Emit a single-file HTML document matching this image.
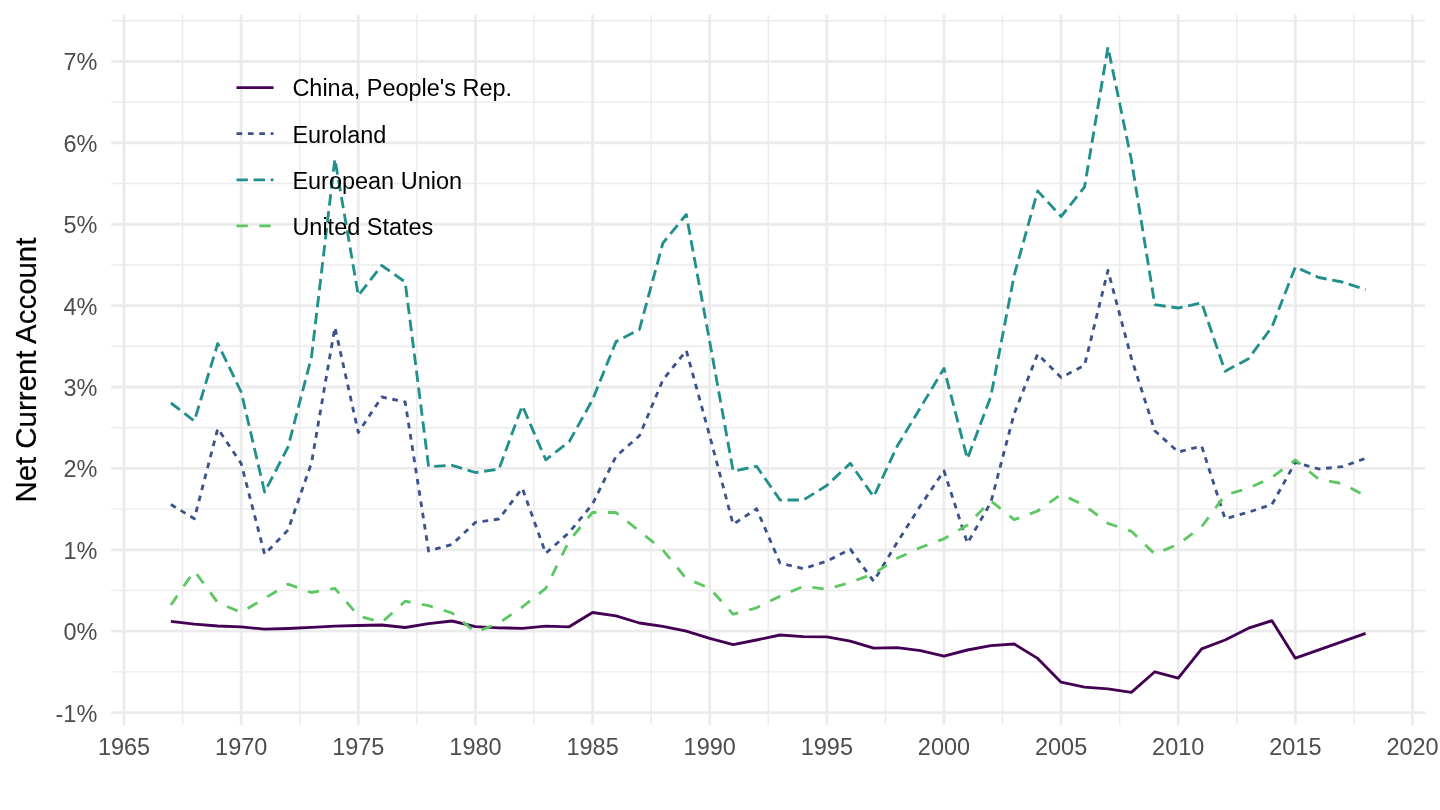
<!DOCTYPE html>
<html lang="en"><head><meta charset="utf-8"><title>Net Current Account</title>
<style>html,body{margin:0;padding:0;background:#fff;}svg{display:block;}text{font-family:"Liberation Sans",Arial,Helvetica,sans-serif;}</style></head><body>
<svg width="1440" height="810" viewBox="0 0 1440 810">
<rect width="1440" height="810" fill="#ffffff"/>
<g stroke="#EBEBEB" stroke-width="1.42" fill="none">
<line x1="111.18" x2="1425.38" y1="671.90" y2="671.90"/>
<line x1="111.18" x2="1425.38" y1="590.51" y2="590.51"/>
<line x1="111.18" x2="1425.38" y1="509.11" y2="509.11"/>
<line x1="111.18" x2="1425.38" y1="427.72" y2="427.72"/>
<line x1="111.18" x2="1425.38" y1="346.32" y2="346.32"/>
<line x1="111.18" x2="1425.38" y1="264.93" y2="264.93"/>
<line x1="111.18" x2="1425.38" y1="183.53" y2="183.53"/>
<line x1="111.18" x2="1425.38" y1="102.14" y2="102.14"/>
<line x1="111.18" x2="1425.38" y1="20.74" y2="20.74"/>
<line y1="14.67" y2="724.7" x1="182.62" x2="182.62"/>
<line y1="14.67" y2="724.7" x1="299.75" x2="299.75"/>
<line y1="14.67" y2="724.7" x1="416.88" x2="416.88"/>
<line y1="14.67" y2="724.7" x1="534.01" x2="534.01"/>
<line y1="14.67" y2="724.7" x1="651.14" x2="651.14"/>
<line y1="14.67" y2="724.7" x1="768.27" x2="768.27"/>
<line y1="14.67" y2="724.7" x1="885.40" x2="885.40"/>
<line y1="14.67" y2="724.7" x1="1002.53" x2="1002.53"/>
<line y1="14.67" y2="724.7" x1="1119.66" x2="1119.66"/>
<line y1="14.67" y2="724.7" x1="1236.79" x2="1236.79"/>
<line y1="14.67" y2="724.7" x1="1353.92" x2="1353.92"/>
</g>
<g stroke="#EBEBEB" stroke-width="2.845" fill="none">
<line x1="111.18" x2="1425.38" y1="712.60" y2="712.60"/>
<line x1="111.18" x2="1425.38" y1="631.20" y2="631.20"/>
<line x1="111.18" x2="1425.38" y1="549.81" y2="549.81"/>
<line x1="111.18" x2="1425.38" y1="468.41" y2="468.41"/>
<line x1="111.18" x2="1425.38" y1="387.02" y2="387.02"/>
<line x1="111.18" x2="1425.38" y1="305.62" y2="305.62"/>
<line x1="111.18" x2="1425.38" y1="224.23" y2="224.23"/>
<line x1="111.18" x2="1425.38" y1="142.83" y2="142.83"/>
<line x1="111.18" x2="1425.38" y1="61.44" y2="61.44"/>
<line y1="14.67" y2="724.7" x1="124.06" x2="124.06"/>
<line y1="14.67" y2="724.7" x1="241.19" x2="241.19"/>
<line y1="14.67" y2="724.7" x1="358.32" x2="358.32"/>
<line y1="14.67" y2="724.7" x1="475.45" x2="475.45"/>
<line y1="14.67" y2="724.7" x1="592.58" x2="592.58"/>
<line y1="14.67" y2="724.7" x1="709.71" x2="709.71"/>
<line y1="14.67" y2="724.7" x1="826.84" x2="826.84"/>
<line y1="14.67" y2="724.7" x1="943.97" x2="943.97"/>
<line y1="14.67" y2="724.7" x1="1061.10" x2="1061.10"/>
<line y1="14.67" y2="724.7" x1="1178.23" x2="1178.23"/>
<line y1="14.67" y2="724.7" x1="1295.36" x2="1295.36"/>
<line y1="14.67" y2="724.7" x1="1412.49" x2="1412.49"/>
</g>
<g fill="none" stroke-width="2.845" stroke-linejoin="round" stroke-linecap="butt">
<polyline stroke="#440154" points="170.91,621.30 194.34,624.20 217.76,626.00 241.19,626.80 264.62,629.20 288.04,628.50 311.47,627.30 334.89,626.20 358.32,625.50 381.75,625.00 405.17,627.50 428.60,623.70 452.02,621.00 475.45,626.70 498.88,627.80 522.30,628.30 545.73,626.20 569.15,626.80 592.58,612.50 616.01,615.80 639.43,623.00 662.86,626.30 686.28,631.20 709.71,638.30 733.14,644.70 756.56,640.00 779.99,635.00 803.41,636.70 826.84,636.90 850.27,641.10 873.69,648.20 897.12,647.60 920.54,650.70 943.97,656.20 967.40,650.00 990.82,645.60 1014.25,644.00 1037.67,658.40 1061.10,682.20 1084.53,687.10 1107.95,688.90 1131.38,692.40 1154.80,671.80 1178.23,678.20 1201.66,648.90 1225.08,640.00 1248.51,628.20 1271.93,620.70 1295.36,658.20 1318.79,649.90 1342.21,641.60 1365.64,633.30"/>
<polyline stroke="#3B528B" stroke-dasharray="5.69 5.69" points="170.91,504.50 194.34,518.70 217.76,428.50 241.19,463.50 264.62,554.30 288.04,530.00 311.47,463.00 334.89,327.30 358.32,432.50 381.75,397.00 405.17,402.00 428.60,551.00 452.02,544.40 475.45,522.40 498.88,519.00 522.30,488.20 545.73,553.30 569.15,532.50 592.58,504.00 616.01,456.30 639.43,435.80 662.86,380.00 686.28,350.50 709.71,435.80 733.14,524.30 756.56,508.80 779.99,563.00 803.41,568.70 826.84,561.20 850.27,549.20 873.69,581.30 897.12,542.50 920.54,505.50 943.97,470.80 967.40,543.20 990.82,502.50 1014.25,413.50 1037.67,354.00 1061.10,377.50 1084.53,365.30 1107.95,270.50 1131.38,358.30 1154.80,430.80 1178.23,452.00 1201.66,446.00 1225.08,518.80 1248.51,512.20 1271.93,504.50 1295.36,462.30 1318.79,469.00 1342.21,466.70 1365.64,458.30"/>
<polyline stroke="#21908C" stroke-dasharray="11.38 5.69" points="170.91,403.00 194.34,421.00 217.76,343.50 241.19,392.00 264.62,492.00 288.04,447.00 311.47,357.00 334.89,159.00 358.32,295.50 381.75,265.50 405.17,282.00 428.60,466.70 452.02,465.30 475.45,472.50 498.88,469.20 522.30,405.70 545.73,459.80 569.15,441.70 592.58,399.70 616.01,341.60 639.43,329.50 662.86,243.10 686.28,214.50 709.71,341.60 733.14,471.20 756.56,466.30 779.99,500.00 803.41,500.00 826.84,485.50 850.27,463.30 873.69,496.70 897.12,446.30 920.54,407.50 943.97,368.40 967.40,458.70 990.82,396.50 1014.25,275.00 1037.67,190.90 1061.10,216.50 1084.53,187.00 1107.95,47.10 1131.38,160.00 1154.80,304.70 1178.23,308.00 1201.66,302.80 1225.08,371.30 1248.51,358.70 1271.93,327.00 1295.36,267.00 1318.79,277.50 1342.21,282.00 1365.64,289.70"/>
<polyline stroke="#5DC863" stroke-dasharray="11.38 11.38" points="170.91,605.00 194.34,570.80 217.76,602.70 241.19,612.30 264.62,598.40 288.04,584.20 311.47,592.50 334.89,588.30 358.32,615.80 381.75,622.40 405.17,601.20 428.60,605.70 452.02,613.00 475.45,632.30 498.88,623.00 522.30,607.00 545.73,588.30 569.15,540.80 592.58,512.50 616.01,512.50 639.43,531.20 662.86,550.00 686.28,578.70 709.71,588.20 733.14,614.20 756.56,607.80 779.99,596.20 803.41,586.30 826.84,589.20 850.27,582.50 873.69,573.70 897.12,558.30 920.54,547.50 943.97,538.80 967.40,525.00 990.82,500.80 1014.25,519.70 1037.67,511.00 1061.10,494.30 1084.53,505.30 1107.95,523.30 1131.38,531.30 1154.80,554.00 1178.23,544.20 1201.66,526.70 1225.08,495.00 1248.51,488.30 1271.93,477.30 1295.36,460.00 1318.79,479.30 1342.21,483.60 1365.64,496.00"/>
</g>
<g font-size="23.47" fill="#4D4D4D">
<text x="97.3" y="722" text-anchor="end">-1%</text>
<text x="97.3" y="640" text-anchor="end">0%</text>
<text x="97.3" y="559" text-anchor="end">1%</text>
<text x="97.3" y="477" text-anchor="end">2%</text>
<text x="97.3" y="396" text-anchor="end">3%</text>
<text x="97.3" y="315" text-anchor="end">4%</text>
<text x="97.3" y="233" text-anchor="end">5%</text>
<text x="97.3" y="152" text-anchor="end">6%</text>
<text x="97.3" y="70" text-anchor="end">7%</text>
<text x="124.06" y="755" text-anchor="middle">1965</text>
<text x="241.19" y="755" text-anchor="middle">1970</text>
<text x="358.32" y="755" text-anchor="middle">1975</text>
<text x="475.45" y="755" text-anchor="middle">1980</text>
<text x="592.58" y="755" text-anchor="middle">1985</text>
<text x="709.71" y="755" text-anchor="middle">1990</text>
<text x="826.84" y="755" text-anchor="middle">1995</text>
<text x="943.97" y="755" text-anchor="middle">2000</text>
<text x="1061.10" y="755" text-anchor="middle">2005</text>
<text x="1178.23" y="755" text-anchor="middle">2010</text>
<text x="1295.36" y="755" text-anchor="middle">2015</text>
<text x="1412.49" y="755" text-anchor="middle">2020</text>
</g>
<text font-size="29.45" fill="#000" text-anchor="middle" stroke="#000" stroke-width="0.2" transform="translate(35.6,370.1) rotate(-90) scale(1,1.015)">Net Current Account</text>
<g fill="none" stroke-width="2.845">
<line x1="236.5" x2="273.5" y1="87.7" y2="87.7" stroke="#440154"/>
<line x1="236.5" x2="273.5" y1="133.7" y2="133.7" stroke="#3B528B" stroke-dasharray="5.69 5.69"/>
<line x1="236.5" x2="273.5" y1="179.8" y2="179.8" stroke="#21908C" stroke-dasharray="11.38 5.69"/>
<line x1="236.5" x2="273.5" y1="225.9" y2="225.9" stroke="#5DC863" stroke-dasharray="11.38 11.38"/>
</g>
<g font-size="23.47" fill="#000">
<text x="292.4" y="96">China, People's Rep.</text>
<text x="292.4" y="143">Euroland</text>
<text x="292.4" y="189">European Union</text>
<text x="292.4" y="235">United States</text>
</g>
</svg></body></html>
